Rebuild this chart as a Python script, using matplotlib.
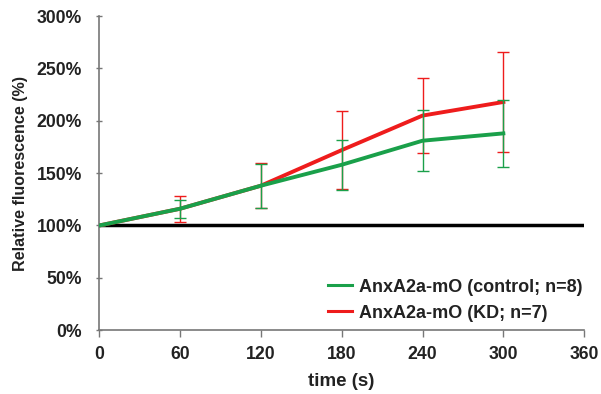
import matplotlib.pyplot as plt
from matplotlib.lines import Line2D
from matplotlib.ticker import FuncFormatter

plt.rcParams['font.family'] = ['Liberation Sans', 'DejaVu Sans']
plt.rcParams['font.weight'] = 'bold'

# time points (s) and relative fluorescence (%)
time_s = [0, 60, 120, 180, 240, 300]
control = [100, 116, 138, 158, 181, 188]
control_err = [0, 8.5, 21, 24, 29, 32]
kd = [100, 116, 138, 172, 205, 218]
kd_err = [0, 12.5, 21.5, 37, 36, 48]
labels = ["AnxA2a-mO (control; n=8)", "AnxA2a-mO (KD; n=7)"]

green = "#1aa04a"
red = "#ee1c1c"

fig = plt.figure(figsize=(6.01, 3.94), dpi=100)
ax = fig.add_axes([0.165, 0.162, 0.807, 0.797])

# baseline at 100%
ax.plot([0, 360], [100, 100], color="black", lw=2.5, zorder=1)

ax.errorbar(time_s, kd, yerr=kd_err, color=red, lw=2.8, elinewidth=1,
            capsize=4, capthick=1, zorder=2)
ax.errorbar(time_s, control, yerr=control_err, color=green, lw=2.8, elinewidth=1,
            capsize=4, capthick=1, zorder=3)

ax.set_xlim(0, 360)
ax.set_ylim(0, 300)
ax.set_xticks(range(0, 361, 60))
ax.set_yticks(range(0, 301, 50))
ax.yaxis.set_major_formatter(FuncFormatter(lambda v, p: f"{int(v)}%"))

for side in ["top", "right"]:
    ax.spines[side].set_visible(False)
for side in ["left", "bottom"]:
    ax.spines[side].set_color("#777777")
    ax.spines[side].set_linewidth(1.2)
ax.tick_params(axis="both", color="#777777", labelsize=12.7, length=5, width=1,
               labelcolor="#222222")
ax.tick_params(axis="y", direction="inout", pad=10)
ax.tick_params(axis="x", direction="out", pad=6.5)

ax.set_xlabel("time (s)", fontsize=13.5, fontweight="bold", labelpad=7,
              color="#222222")
ax.set_ylabel("Relative fluorescence (%)", fontsize=11.6, fontweight="bold",
              labelpad=6, color="#222222")

handles = [Line2D([], [], color=green, lw=2.2), Line2D([], [], color=red, lw=2.2)]
ax.legend(handles, labels, loc="lower right", frameon=False,
          fontsize=13, handlelength=1.3, handletextpad=0.4,
          bbox_to_anchor=(1.03, -0.025), labelspacing=0.5,
          labelcolor="#222222")

fig.savefig("out.png", dpi=100)
